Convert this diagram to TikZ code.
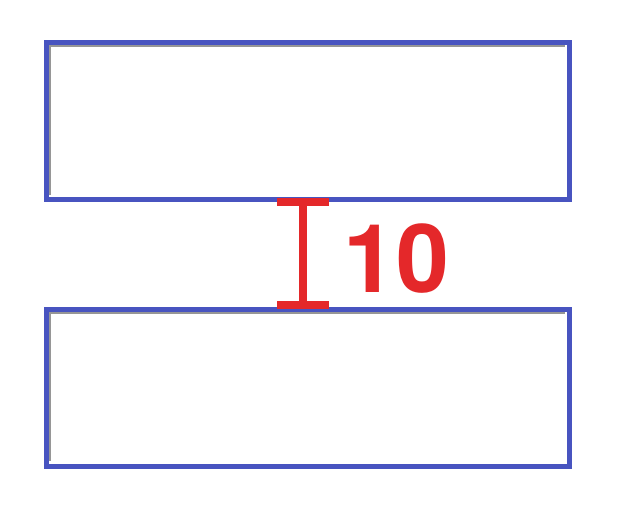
\documentclass[tikz,border=0pt]{standalone}
\usepackage{fontspec}
\setmainfont{TeX Gyre Heros}
\definecolor{boxblue}{RGB}{72,84,192}
\definecolor{shadowgray}{RGB}{150,150,150}
\definecolor{dimred}{RGB}{228,40,42}
\tikzset{
  boxrect/.style={draw=boxblue, line width=5pt, minimum width=523pt, minimum height=157pt, anchor=north west, inner sep=0pt},
  shadowline/.style={draw=shadowgray, line width=4pt},
  dimline/.style={draw=dimred, line width=8pt},
  dimlabel/.style={text=dimred, font=\fontsize{95}{95}\selectfont\bfseries, inner sep=0pt}
}
\begin{document}
\begin{tikzpicture}[x=1pt,y=-1pt]
\useasboundingbox (0,0) rectangle (624,514);
% inner shadows
\draw[shadowline] (48.5,195) -- (48.5,44.5) -- (565,44.5);
\draw[shadowline] (48.5,461) -- (48.5,311.5) -- (565,311.5);
\node[boxrect] (top) at (44,40) {};
\node[boxrect] (bot) at (44,307) {};
\coordinate (t) at (303,202);
\coordinate (b) at (303,305);
\draw[dimline] (t) -- (b);
\draw[dimline] ([xshift=-26pt]t) -- ([xshift=26pt]t);
\draw[dimline] ([xshift=-26pt]b) -- ([xshift=26pt]b);
\node[dimlabel] (lbl) at (396,259) {10};
\end{tikzpicture}
\end{document}
